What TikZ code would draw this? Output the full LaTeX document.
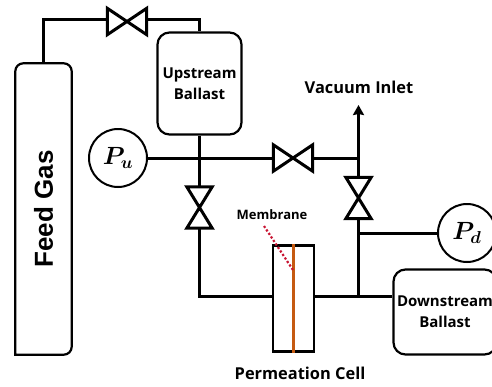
\documentclass[tikz,border=0pt]{standalone}
\usepackage{fontspec}
\usepackage{amsmath}
\usepackage{bm}
\setmainfont{Open Sans}
\newfontfamily\tankfont{Liberation Sans}
\usetikzlibrary{arrows.meta,positioning,calc}
\definecolor{membcol}{RGB}{197,90,17}
\definecolor{leadcol}{RGB}{200,20,50}
\tikzset{
  pipe/.style={line width=3pt,draw=black},
  flowup/.style={pipe,-{Stealth[length=10pt,width=11pt,inset=1pt]}},
  vessel/.style={draw=black,line width=2.2pt,fill=white,rounded corners=12pt,align=center,
                 inner sep=0pt,font=\fontsize{15}{21}\selectfont\bfseries},
  tank/.style={inner sep=0pt,font=\fontsize{26}{30}\selectfont\tankfont\bfseries},
  gauge/.style={draw=black,circle,line width=2pt,fill=white,inner sep=0pt,minimum size=58pt,
                font=\fontsize{25}{27}\selectfont},
  valveh/.style={inner sep=0pt,minimum width=39pt,minimum height=26pt,
    append after command={\pgfextra{\draw[pipe,line join=miter]
      (\tikzlastnode.north west) -- (\tikzlastnode.south east) --
      (\tikzlastnode.north east) -- (\tikzlastnode.south west) -- cycle;}}},
  valvev/.style={inner sep=0pt,minimum width=25pt,minimum height=41pt,
    append after command={\pgfextra{\draw[pipe,line join=miter]
      (\tikzlastnode.north west) -- (\tikzlastnode.north east) --
      (\tikzlastnode.south west) -- (\tikzlastnode.south east) -- cycle;}}},
  lbl/.style={inner sep=0pt,font=\fontsize{16.4}{20}\selectfont\bfseries},
  lbls/.style={inner sep=0pt,font=\fontsize{13}{16}\selectfont\bfseries},
}
\begin{document}
\begin{tikzpicture}[x=1pt,y=-1pt]
  \useasboundingbox (0,0) rectangle (492,386);

  % vessels and gauges
  \node[tank,minimum width=56pt,minimum height=291pt] (feed) at (43.5,209) {\rotatebox{90}{Feed Gas}};
  \draw[draw=black,line width=2.2pt,rounded corners=8pt] (feed.south west) -- (feed.north west)
    -- (feed.north east) -- (feed.south east) [sharp corners] -- cycle;
  \node[vessel,minimum width=84pt,minimum height=102pt] (upb) at (199.5,83.5) {Upstream\\Ballast};
  \node[vessel,minimum width=103pt,minimum height=85pt] (downb) at (445,312) {Downstream\\Ballast};
  \node[gauge] (pu) at (118,158) {$\bm{P_u}$};
  \node[gauge] (pd) at (467,233) {$\bm{P_d}$};

  % valves
  \node[valveh] (vfeed) at (127,21.5) {};
  \node[valveh] (vmid) at (293,158) {};
  \node[valvev] (vup) at (199.5,207.5) {};
  \node[valvev] (vvac) at (358.5,198) {};

  % permeation cell
  \node[draw=black,line width=2.2pt,minimum width=41pt,minimum height=106pt,inner sep=0pt] (cell) at (293.5,298.5) {};
  \draw[draw=membcol,line width=3pt] (cell.north) -- (cell.south);
  \coordinate (leadend) at (293,270);
  \coordinate (leadstart) at (264,226);
  \draw[draw=leadcol,line width=2.2pt,dotted] (leadstart) -- (leadend);

  % pipes
  \coordinate (feedl) at ($(vfeed.west)+(0,-2.5)$);
  \coordinate (feedr) at ($(vfeed.east)+(0,-2.5)$);
  \coordinate (teev) at (358.5,158);
  \coordinate (teed) at (358.5,233);
  \coordinate (teec) at (358.5,296);
  \coordinate (vactop) at (358.5,105);
  \draw[pipe] (feed.north) |- (feedl);
  \draw[pipe] (feedr) -| (upb.north);
  \draw[pipe] (upb.south) -- (vup.north);
  \draw[pipe] (pu.east) -- (vmid.west);
  \draw[pipe] (vmid.east) -- (teev);
  \draw[flowup] (vvac.north) -- (vactop);
  \draw[pipe] (vvac.south) -- (teec);
  \draw[pipe] (teed) -- (pd.west);
  \draw[pipe] (vup.south) |- (teec -| cell.west);
  \draw[pipe] (teec -| cell.east) -- (teec -| downb.west);

  % labels
  \node[lbl] (vaclbl) at (359,87) {Vacuum Inlet};
  \node[lbls] (memlbl) at (272,215) {Membrane};
  \node[lbl] (celllbl) at (300,373) {Permeation Cell};
\end{tikzpicture}
\end{document}
